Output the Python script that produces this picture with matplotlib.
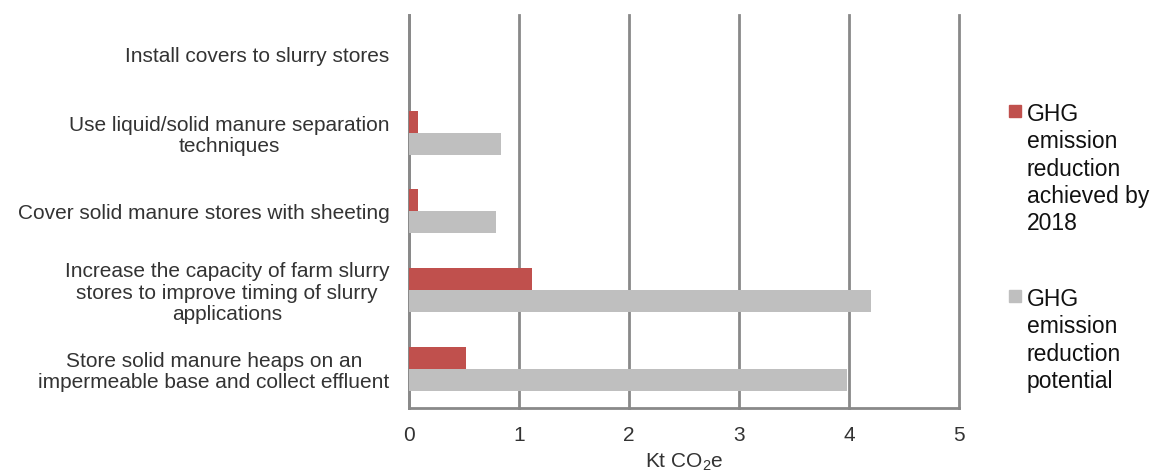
import numpy as np
from matplotlib import pyplot as plt
from matplotlib.patches import Rectangle

plt.rcParams['font.family'] = ['Liberation Sans', 'DejaVu Sans']
plt.rcParams['mathtext.fontset'] = 'custom'
plt.rcParams['mathtext.rm'] = 'Liberation Sans'
plt.rcParams['mathtext.it'] = 'Liberation Sans:italic'

# measures, top to bottom
measures = [
    "Install covers to slurry stores",
    "Use liquid/solid manure separation\ntechniques",
    "Cover solid manure stores with sheeting",
    "Increase the capacity of farm slurry\nstores to improve timing of slurry\napplications",
    "Store solid manure heaps on an\nimpermeable base and collect effluent",
]
achieved_2018 = [0.0, 0.08, 0.08, 1.12, 0.52]
potential = [0.0, 0.84, 0.79, 4.2, 3.98]

series_labels = [
    "GHG\nemission\nreduction\nachieved by\n2018",
    "GHG\nemission\nreduction\npotential",
]
colors = ["#C0504D", "#BFBFBF"]
grid_color = "#898989"
text_color = "#333333"


def main():
    fig = plt.figure(figsize=(11.57, 4.75), dpi=100)
    ax = fig.add_axes([0.3535, 0.1411, 0.4754, 0.8273])

    y = np.arange(len(measures))
    h = 0.28
    ax.barh(y - h / 2, achieved_2018, height=h, color=colors[0], zorder=3)
    ax.barh(y + h / 2, potential, height=h, color=colors[1], zorder=3)

    ax.set_ylim(len(measures) - 0.5, -0.5)
    ax.set_xlim(0, 5)
    ax.set_xticks(range(6))
    ax.set_yticks(y)
    ax.set_yticklabels(measures, ha="right", multialignment="center",
                       fontsize=15, color=text_color, linespacing=1.15)
    ax.tick_params(axis="y", length=0, pad=14)
    ax.tick_params(axis="x", length=0, pad=13, labelsize=15, labelcolor=text_color)

    ax.grid(axis="x", color=grid_color, linewidth=2, zorder=1)
    for line in ax.get_xgridlines():
        line.set_clip_on(False)
    for side in ["top", "right"]:
        ax.spines[side].set_visible(False)
    for side in ["left", "bottom"]:
        ax.spines[side].set_color(grid_color)
        ax.spines[side].set_linewidth(2)
    ax.set_xlabel("Kt CO$_2$e", fontsize=15, color=text_color, labelpad=5)

    # legend drawn by hand: square marker plus wrapped label
    for top, lab, col in zip([103, 288], series_labels, colors):
        fig.patches.append(Rectangle((1009 / 1157, 1 - (top + 14) / 475),
                                     12 / 1157, 12 / 475,
                                     transform=fig.transFigure, color=col))
        fig.text(1027 / 1157, 1 - top / 475, lab, fontsize=16.5, va="top",
                 ha="left", color="#111111", linespacing=1.24)

    fig.savefig("out.png", dpi=100)


if __name__ == "__main__":
    main()
